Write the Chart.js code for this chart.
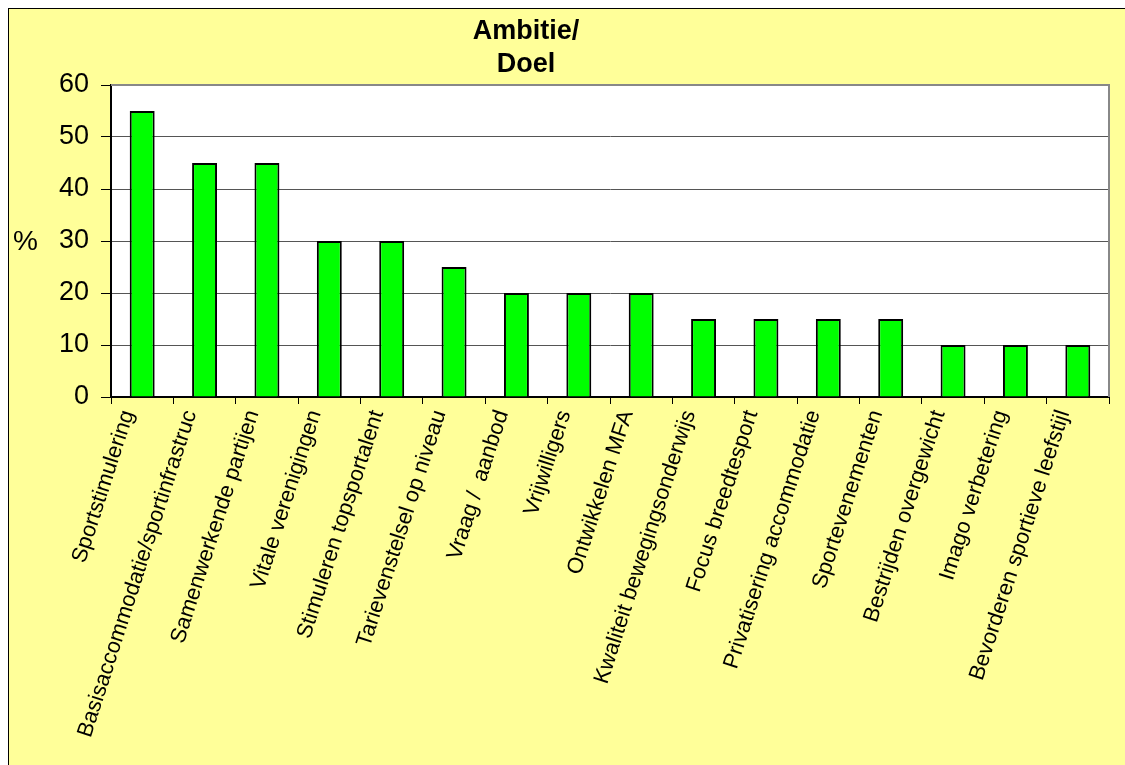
<!DOCTYPE html>
<html lang="nl">
<head>
    <meta charset="UTF-8">
    <title>Ambitie/Doel</title>
    <style>
        body {
            margin: 0;
            background-color: #ffffff;
            overflow: hidden;
        }
        .frame {
            position: absolute;
            left: 8px;
            top: 8px;
            width: 1130px;
            height: 770px;
            background-color: #ffff99;
            border: 1px solid #000000;
        }
        .chart-box {
            position: absolute;
            left: 0;
            top: 0;
            width: 1116px;
            height: 756px;
        }
    </style>
</head>
<body>
    <div class="frame">
        <div class="chart-box">
            <canvas id="doelChart"></canvas>
        </div>
    </div>

    <script src="https://cdn.jsdelivr.net/npm/chart.js"></script>
    <script>
        const titleLines = ['Ambitie/', 'Doel'];
        const yAxisLabel = '%';
        const categories = [
            'Sportstimulering',
            'Basisaccommodatie/sportinfrastruc',
            'Samenwerkende partijen',
            'Vitale verenigingen',
            'Stimuleren topsportalent',
            'Tarievenstelsel op niveau',
            'Vraag /  aanbod',
            'Vrijwilligers',
            'Ontwikkelen MFA',
            'Kwaliteit bewegingsonderwijs',
            'Focus breedtesport',
            'Privatisering accommodatie',
            'Sportevenementen',
            'Bestrijden overgewicht',
            'Imago verbetering',
            'Bevorderen sportieve leefstijl'
        ];
        const percentages = [55, 45, 45, 30, 30, 25, 20, 20, 20, 15, 15, 15, 15, 10, 10, 10];
        const yTicks = [0, 10, 20, 30, 40, 50, 60];

        const fontFamily = '"Liberation Sans", Arial, sans-serif';

        // white plot area, grey border on top/right, title and the % label
        const decorPlugin = {
            id: 'decor',
            beforeDraw(chart) {
                const a = chart.chartArea;
                const ctx = chart.ctx;
                ctx.save();
                ctx.fillStyle = '#ffffff';
                ctx.fillRect(a.left, a.top, a.right - a.left, a.bottom - a.top);
                ctx.restore();
            },
            afterDraw(chart) {
                const a = chart.chartArea;
                const ctx = chart.ctx;
                ctx.save();
                ctx.strokeStyle = '#888888';
                ctx.lineWidth = 2;
                ctx.beginPath();
                ctx.moveTo(a.left, a.top);
                ctx.lineTo(a.right, a.top);
                ctx.lineTo(a.right, a.bottom);
                ctx.stroke();

                ctx.fillStyle = '#000000';
                ctx.textAlign = 'center';
                ctx.textBaseline = 'alphabetic';
                ctx.font = 'bold 27px ' + fontFamily;
                titleLines.forEach((line, i) => {
                    ctx.fillText(line, 517, 30 + i * 33);
                });

                ctx.textAlign = 'left';
                ctx.font = '28px ' + fontFamily;
                ctx.fillText(yAxisLabel, 4, (a.top + a.bottom) / 2 + 9);
                ctx.restore();
            }
        };

        const ctx = document.getElementById('doelChart').getContext('2d');
        new Chart(ctx, {
            type: 'bar',
            data: {
                labels: categories,
                datasets: [{
                    data: percentages,
                    backgroundColor: '#00ff00',
                    borderColor: '#000000',
                    borderWidth: 2,
                    barPercentage: 0.4,
                    categoryPercentage: 1.0
                }]
            },
            options: {
                responsive: true,
                maintainAspectRatio: false,
                animation: false,
                layout: {
                    padding: { top: 76, right: 16, bottom: 0, left: 0 }
                },
                plugins: {
                    legend: { display: false },
                    tooltip: { enabled: false }
                },
                scales: {
                    x: {
                        afterFit(scale) {
                            scale.height = 368;
                        },
                        grid: {
                            offset: true,
                            drawOnChartArea: false,
                            drawTicks: true,
                            tickLength: 7,
                            tickColor: '#000000'
                        },
                        border: { color: '#000000', width: 2 },
                        ticks: {
                            autoSkip: false,
                            minRotation: 72,
                            maxRotation: 72,
                            padding: 3,
                            labelOffset: -14,
                            color: '#000000',
                            font: { family: fontFamily, size: 22 }
                        }
                    },
                    y: {
                        min: 0,
                        max: 60,
                        afterFit(scale) {
                            scale.width = 102;
                        },
                        afterBuildTicks(scale) {
                            scale.ticks = yTicks.map(v => ({ value: v }));
                        },
                        grid: {
                            color: '#555555',
                            lineWidth: 1,
                            tickLength: 10,
                            tickColor: '#000000'
                        },
                        border: { color: '#000000', width: 2 },
                        ticks: {
                            padding: 12,
                            color: '#000000',
                            font: { family: fontFamily, size: 27 }
                        }
                    }
                }
            },
            plugins: [decorPlugin]
        });
    </script>
</body>
</html>
